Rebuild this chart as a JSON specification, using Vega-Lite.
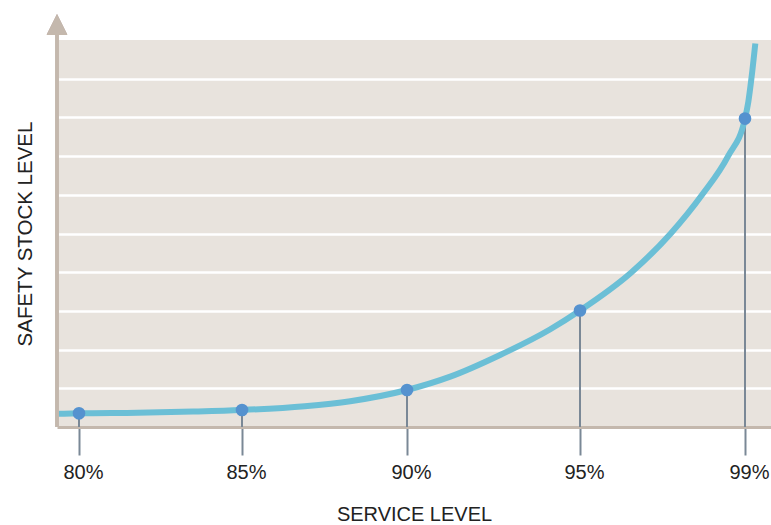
{
  "$schema": "https://vega.github.io/schema/vega-lite/v6.json",
  "width": 714,
  "height": 387,
  "autosize": {"type": "none"},
  "padding": {"left": 57, "top": 40, "right": 0, "bottom": 98},
  "background": "white",
  "view": {"fill": "#e8e3dd", "stroke": null},
  "config": {
    "font": "Liberation Sans",
    "axis": {"titleFontWeight": "normal", "titleColor": "#222222", "labelColor": "#222222"}
  },
  "datasets": {
    "curve": [
      {"service_level": 79.31, "safety_stock": 0.34},
      {"service_level": 80, "safety_stock": 0.354},
      {"service_level": 81.8, "safety_stock": 0.37},
      {"service_level": 83.5, "safety_stock": 0.40},
      {"service_level": 85, "safety_stock": 0.44},
      {"service_level": 86.9, "safety_stock": 0.537},
      {"service_level": 88.28, "safety_stock": 0.667},
      {"service_level": 90, "safety_stock": 0.956},
      {"service_level": 91.25, "safety_stock": 1.30},
      {"service_level": 92.69, "safety_stock": 1.86},
      {"service_level": 94.13, "safety_stock": 2.52},
      {"service_level": 95, "safety_stock": 3.01},
      {"service_level": 96.25, "safety_stock": 4.0},
      {"service_level": 97.2, "safety_stock": 5.0},
      {"service_level": 97.96, "safety_stock": 6.0},
      {"service_level": 98.59, "safety_stock": 7.0},
      {"service_level": 99, "safety_stock": 7.97},
      {"service_level": 99.08, "safety_stock": 8.4},
      {"service_level": 99.155, "safety_stock": 9.0},
      {"service_level": 99.25, "safety_stock": 9.91}
    ],
    "points": [
      {"service_level": 80, "safety_stock": 0.354},
      {"service_level": 85, "safety_stock": 0.44},
      {"service_level": 90, "safety_stock": 0.956},
      {"service_level": 95, "safety_stock": 3.01},
      {"service_level": 99, "safety_stock": 7.97}
    ]
  },
  "encoding": {
    "x": {
      "field": "service_level",
      "type": "quantitative",
      "scale": {"domain": [79.31, 80, 85, 90, 95, 99, 99.63], "range": [0, 22, 185, 350, 523, 688, 714], "nice": false, "zero": false},
      "axis": {
        "title": "SERVICE LEVEL",
        "titleFontSize": 20,
        "titlePadding": 22,
        "values": [80, 85, 90, 95, 99],
        "labelExpr": "datum.value + '%'",
        "labelFontSize": 20,
        "labelPadding": 7,
        "labelOffset": 4,
        "grid": false,
        "domainColor": "#c4b8ad",
        "domainWidth": 3,
        "tickColor": "#7a8896",
        "tickWidth": 2,
        "tickSize": 28
      }
    },
    "y": {
      "field": "safety_stock",
      "type": "quantitative",
      "scale": {"domain": [0, 10], "nice": false, "zero": false},
      "axis": {
        "title": "SAFETY STOCK LEVEL",
        "titleFontSize": 20.5,
        "titlePadding": 22,
        "values": [1, 2, 3, 4, 5, 6, 7, 8, 9],
        "labels": false,
        "ticks": false,
        "domain": false,
        "grid": true,
        "gridColor": "#ffffff",
        "gridWidth": 2.5,
        "gridOpacity": 1
      }
    }
  },
  "layer": [
    {
      "data": {"name": "points"},
      "mark": {"type": "rule", "color": "#7a8896", "strokeWidth": 2},
      "encoding": {"y2": {"datum": 0}}
    },
    {
      "data": {"name": "curve"},
      "mark": {"type": "line", "color": "#6bbfd6", "strokeWidth": 6, "interpolate": "monotone", "strokeCap": "butt"}
    },
    {
      "data": {"name": "points"},
      "mark": {"type": "point", "filled": true, "color": "#5592cf", "opacity": 1, "size": 160, "strokeWidth": 0}
    },
    {
      "data": {"name": "points"},
      "mark": {"type": "rule", "color": "#c4b8ad", "strokeWidth": 3},
      "encoding": {
        "x": {"datum": 79.31, "type": "quantitative"},
        "y": {"datum": 0, "type": "quantitative"},
        "y2": {"datum": 10.15}
      }
    },
    {
      "data": {"name": "points"},
      "mark": {"type": "point", "filled": true, "color": "#c4b8ad", "opacity": 1, "shape": "M0,-1L-1,1L1,1Z", "size": 420, "strokeWidth": 0},
      "encoding": {
        "x": {"datum": 79.31, "type": "quantitative"},
        "y": {"datum": 10.4, "type": "quantitative"}
      }
    }
  ]
}
